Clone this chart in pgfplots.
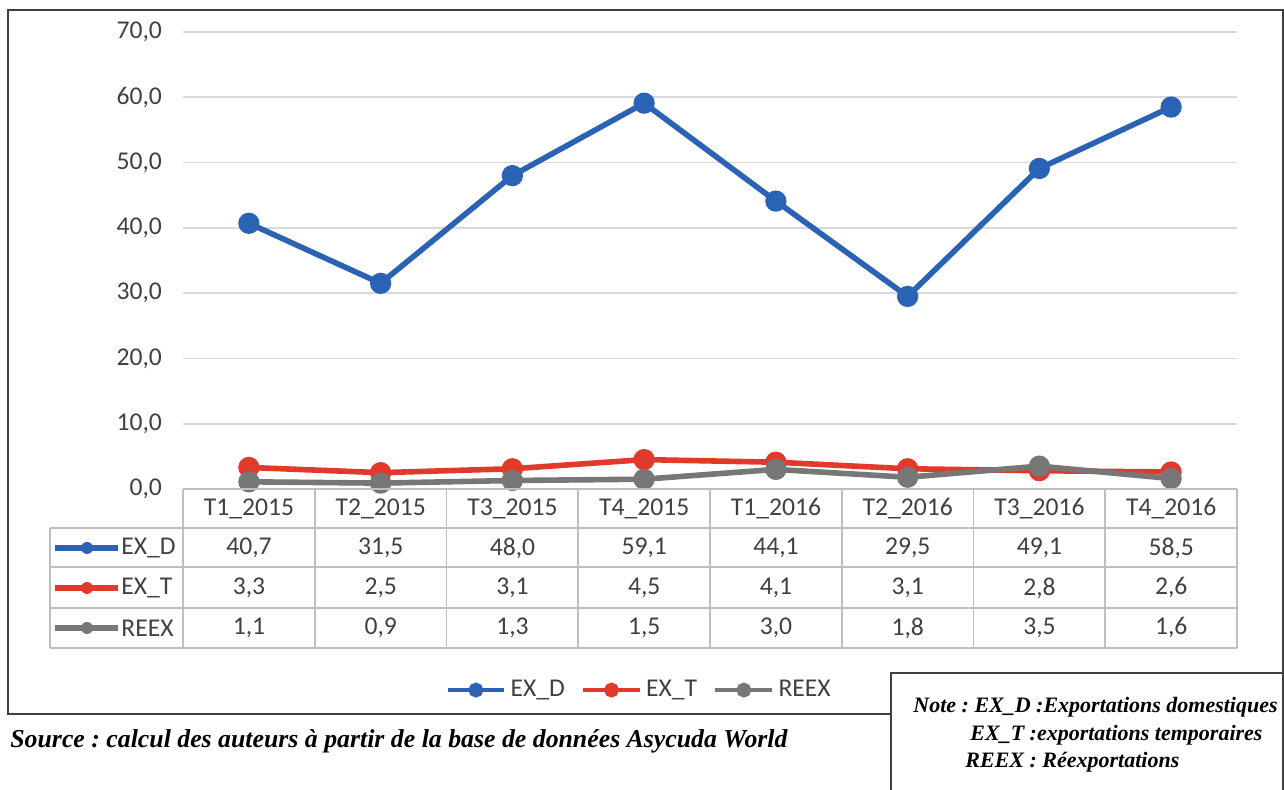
\documentclass[border=0pt]{standalone}
\usepackage{fontspec}
\setmainfont{Carlito}
\newfontfamily\notefont{Liberation Serif}
\usepackage{pgfplots}
\pgfplotsset{compat=1.18}

\definecolor{exd}{HTML}{2A62B4}
\definecolor{ext}{HTML}{E23A2A}
\definecolor{reex}{HTML}{777777}
\definecolor{txt}{HTML}{404040}
\definecolor{gridc}{HTML}{D9D9D9}
\definecolor{tabc}{HTML}{BFBFBF}
\definecolor{boxc}{HTML}{404040}

\newcommand\chartfont{\fontsize{12.8}{15}\selectfont}
\newcommand\notestyle{\frenchspacing\notefont\bfseries\itshape\fontsize{11}{13}\selectfont}
\newcommand\srcstyle{\frenchspacing\notefont\bfseries\itshape\fontsize{12.9}{15}\selectfont}

\begin{document}
\begin{tikzpicture}
\path[use as bounding box] (0,0) rectangle (642pt,395pt);

% outer chart frame (pixel coordinates, y downwards)
\begin{scope}[x=0.5pt,y=-0.5pt,shift={(0pt,395pt)}]
  \draw[boxc, line width=0.8pt] (8,10) rectangle (1283,714);
\end{scope}

\begin{axis}[
    at={(91.5pt,150.5pt)}, anchor=south west,
    width=527pt, height=228.5pt, scale only axis,
    xmin=-0.5, xmax=7.5, ymin=0, ymax=70,
    xtick=\empty,
    ytick={0,10,...,70},
    axis line style={draw=none},
    ymajorgrids,
    grid style={gridc, line width=0.9pt},
    major tick length=0pt,
    yticklabel={\pgfmathprintnumber[fixed,fixed zerofill,precision=1,use comma]{\tick}},
    yticklabel style={font=\chartfont, text=txt, xshift=-7pt},
    /pgf/number format/assume math mode=true,
    clip=false,
    legend columns=3,
    legend style={at={(0.4336,-0.44)}, anchor=center, draw=none, fill=none,
      font=\chartfont, text=txt,
      /tikz/every even column/.append style={column sep=6pt}},
    legend image code/.code={
      \draw[mark repeat=2, mark phase=2, #1, line width=2.2pt, mark size=2.6pt]
        plot coordinates {(0cm,0cm) (0.5cm,0cm) (1cm,0cm)};},
  ]
  \addplot[exd, line width=2.8pt, mark=*, mark size=3.9pt]
    coordinates {(0,40.7) (1,31.5) (2,48.0) (3,59.1) (4,44.1) (5,29.5) (6,49.1) (7,58.5)};
  \addlegendentry{EX\_D}
  \addplot[ext, line width=2.8pt, mark=*, mark size=3.9pt]
    coordinates {(0,3.3) (1,2.5) (2,3.1) (3,4.5) (4,4.1) (5,3.1) (6,2.8) (7,2.6)};
  \addlegendentry{EX\_T}
  \addplot[reex, line width=2.8pt, mark=*, mark size=3.9pt]
    coordinates {(0,1.1) (1,0.9) (2,1.3) (3,1.5) (4,3.0) (5,1.8) (6,3.5) (7,1.6)};
  \addlegendentry{REEX}
\end{axis}

% data table, note box and source (pixel coordinates, y downwards)
\begin{scope}[x=0.5pt,y=-0.5pt,shift={(0pt,395pt)}]
  % grid of the table
  \draw[tabc, line width=0.8pt] (183,489) -- (1237,489);
  \foreach \yy in {528,567,608,648}
    \draw[tabc, line width=0.8pt] (50,\yy) -- (1237,\yy);
  \draw[tabc, line width=0.8pt] (50,528) -- (50,648);
  \foreach \k in {0,...,8}
    \draw[tabc, line width=0.8pt] ({183+\k*131.75},489) -- ({183+\k*131.75},648);

  % header row
  \foreach \lab [count=\i from 0] in {T1\_2015,T2\_2015,T3\_2015,T4\_2015,T1\_2016,T2\_2016,T3\_2016,T4\_2016}
    \node[font=\chartfont, text=txt] at ({249+\i*131.75},509) {\lab};

  % value rows
  \foreach \v [count=\i from 0] in {{40,7},{31,5},{48,0},{59,1},{44,1},{29,5},{49,1},{58,5}}
    \node[font=\chartfont, text=txt] at ({249+\i*131.75},548) {\v};
  \foreach \v [count=\i from 0] in {{3,3},{2,5},{3,1},{4,5},{4,1},{3,1},{2,8},{2,6}}
    \node[font=\chartfont, text=txt] at ({249+\i*131.75},588) {\v};
  \foreach \v [count=\i from 0] in {{1,1},{0,9},{1,3},{1,5},{3,0},{1,8},{3,5},{1,6}}
    \node[font=\chartfont, text=txt] at ({249+\i*131.75},628) {\v};

  % row keys
  \foreach \c/\yy/\lab in {exd/548/EX\_D, ext/588/EX\_T, reex/628/REEX} {
    \draw[\c, line width=2.6pt] (55,\yy) -- (118,\yy);
    \fill[\c] (87,\yy) circle (3pt);
    \node[font=\chartfont, text=txt, anchor=west, inner sep=0pt] at (121,\yy) {\lab};
  }

  % note box
  \filldraw[fill=white, draw=boxc, line width=0.8pt]
    (891,800) -- (891,673) -- (1283,673) -- (1283,800);
  \node[anchor=base west, inner sep=0pt, font=\notestyle] at (913,713)
    {Note : EX\_D :Exportations domestiques};
  \node[anchor=base west, inner sep=0pt, font=\notestyle] at (970,741)
    {EX\_T :exportations temporaires};
  \node[anchor=base west, inner sep=0pt, font=\notestyle] at (965,768)
    {REEX : Réexportations};

  % source
  \node[anchor=base west, inner sep=0pt, font=\srcstyle] at (10,748)
    {Source : calcul des auteurs à partir de la base de données Asycuda World};
\end{scope}
\end{tikzpicture}
\end{document}
